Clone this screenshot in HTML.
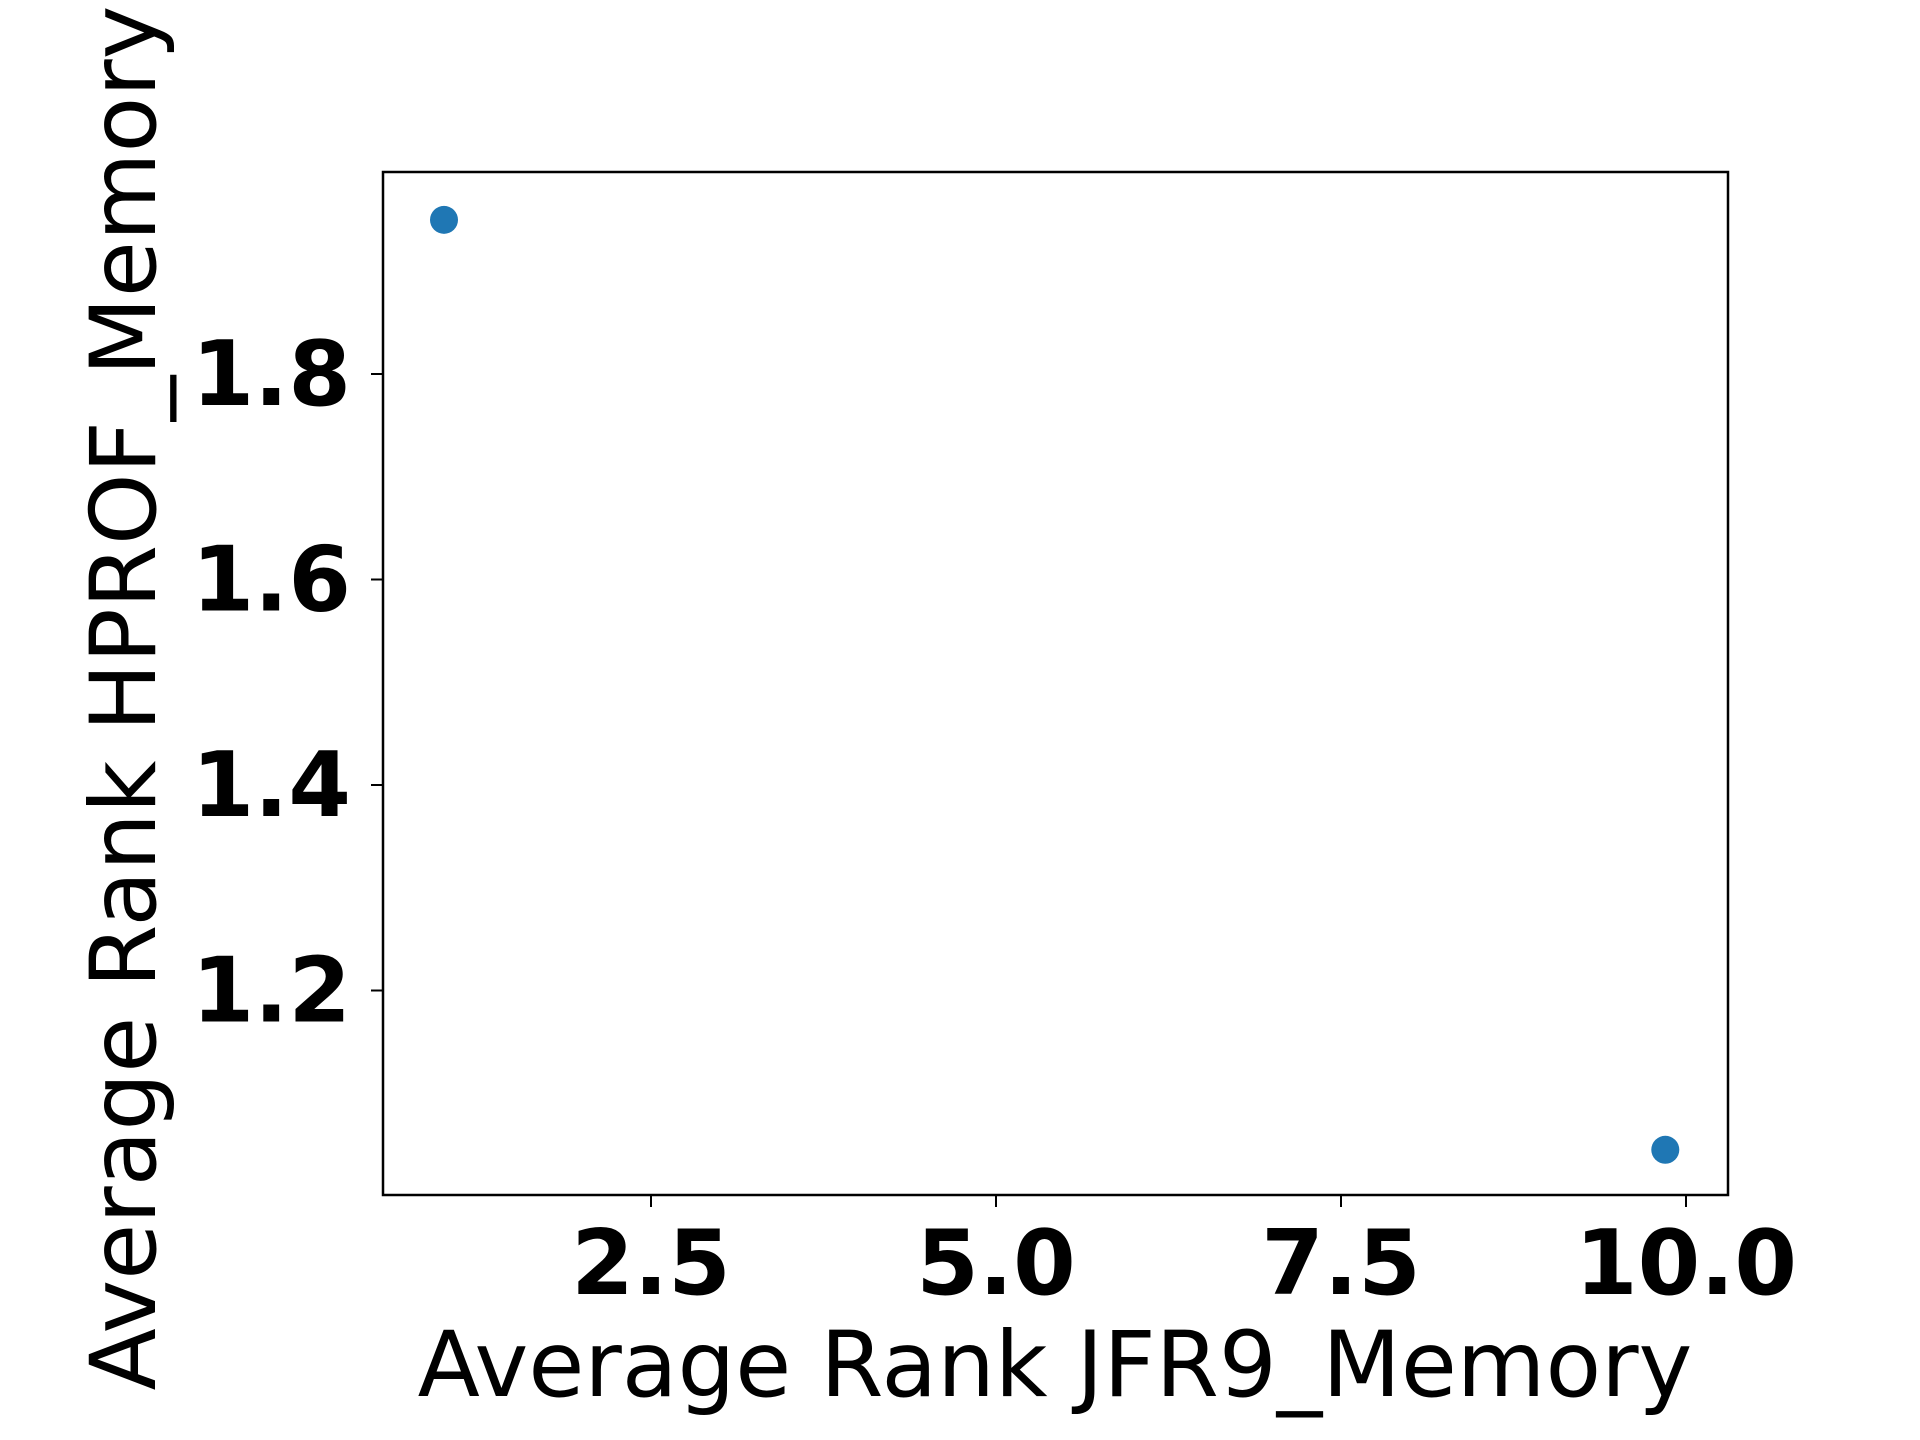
<!DOCTYPE html>
<html><head><meta charset="utf-8"><style>html,body{margin:0;padding:0;background:#fff}svg{display:block}</style></head>
<body>
<svg id="chart" width="1920" height="1440" xmlns="http://www.w3.org/2000/svg" font-family="DejaVu Sans, Liberation Sans, sans-serif"></svg>
<script>
const xValues = [1.0, 9.85];
const yValues = [1.95, 1.045];
const xTicks = [2.5, 5.0, 7.5, 10.0];
const xTickLabels = ["2.5", "5.0", "7.5", "10.0"];
const yTicks = [1.2, 1.4, 1.6, 1.8];
const yTickLabels = ["1.2", "1.4", "1.6", "1.8"];
const NS = "http://www.w3.org/2000/svg";
const svg = document.getElementById('chart');
const L = 383, R = 1728, T = 172, B = 1195;
function sx(v){ return 651 + (v - 2.5) * 138; }
function sy(v){ return 374 - (v - 1.8) * 1027.5; }
function mk(tag, attrs, parent){ const e = document.createElementNS(NS, tag); for (const k in attrs) e.setAttribute(k, attrs[k]); (parent||svg).appendChild(e); return e; }
const frame = mk('rect', {x:L, y:T, width:R-L, height:B-T, fill:'none', stroke:'#000', 'stroke-width':2.5});


xTicks.forEach((v, i) => {
  const g = mk('g', {});
  
  
  mk('line', {x1:sx(v), x2:sx(v), y1:B, y2:B+12, stroke:'#000', 'stroke-width':2}, g);
  const t = mk('text', {x:sx(v), y:1294, 'text-anchor':'middle', 'font-size':90, 'font-weight':'bold'}, g);
  t.textContent = xTickLabels[i];
});
yTicks.forEach((v, i) => {
  const g = mk('g', {});
  
  
  mk('line', {x1:L-12, x2:L, y1:sy(v), y2:sy(v), stroke:'#000', 'stroke-width':2}, g);
  const t = mk('text', {x:351, y:sy(v)+31, 'text-anchor':'end', 'font-size':90, 'font-weight':'bold'}, g);
  t.textContent = yTickLabels[i];
});
xValues.forEach((v, i) => {
  const c = mk('circle', {cx:sx(v), cy:sy(yValues[i]), r:14, fill:'#1f77b4'});
  
  
});
const xl = mk('text', {x:1055, y:1396, 'text-anchor':'middle', 'font-size':91});


xl.textContent = 'Average Rank JFR9_Memory';
const yl = mk('text', {x:0, y:0, 'text-anchor':'middle', 'font-size':91, transform:'translate(155,698) rotate(-90)'});


yl.textContent = 'Average Rank HPROF_Memory';
</script>
</body></html>
